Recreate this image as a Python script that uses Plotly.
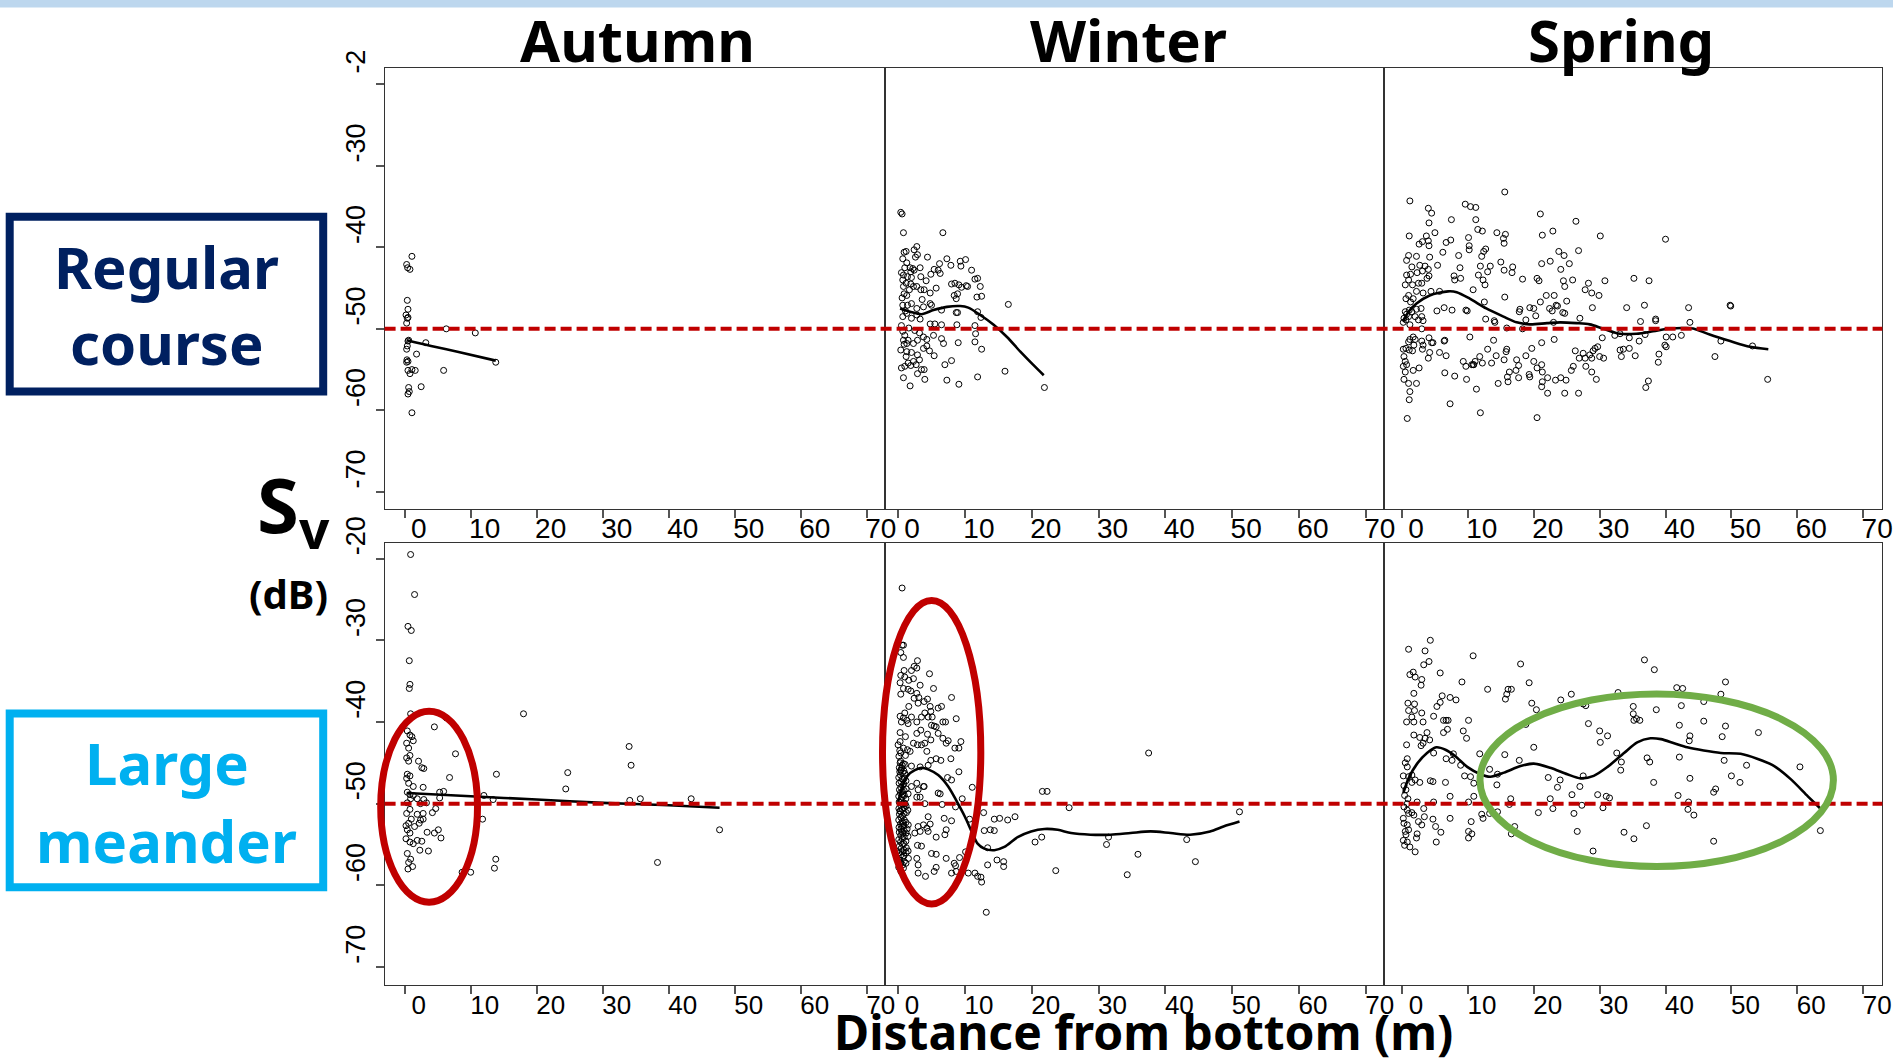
import plotly.graph_objects as go

# ---------------- data ----------------
x_ticks = [0, 10, 20, 30, 40, 50, 60, 70]
x_ticktext = ["0", "10", "20", "30", "40", "50", "60", "70"]
y_ticks = [-20, -30, -40, -50, -60, -70]
y_ticktext_top = ["-2", "-30", "-40", "-50", "-60", "-70"]
y_ticktext_bottom = ["-20", "-30", "-40", "-50", "-60", "-70"]
seasons = ["Autumn", "Winter", "Spring"]
threshold_db = -50

autumn_rc = [(1.1,-41.1),(0.3,-42.1),(0.45,-42.5),(0.8,-42.7),(0.4,-46.5),(0.5,-47.6),(0.2,-48.3),
             (0.4,-48.7),(0.5,-48.6),(0.3,-49.3),(6.3,-50.0),(10.7,-50.5),(0.5,-51.5),(0.6,-51.4),
             (3.2,-51.7),(0.4,-52.1),(0.3,-52.5),(1.8,-53.1),(0.35,-53.8),(0.5,-54.0),(0.3,-54.1),
             (13.8,-54.1),(0.5,-55.1),(1.1,-55.0),(1.6,-55.1),(0.8,-55.5),(5.9,-55.1),(2.5,-57.1),
             (0.6,-57.2),(0.7,-57.7),(0.5,-58.0),(1.1,-60.3)]
autumn_rc_fit = [(0.3,-51.4),(4.0,-52.1),(8.0,-52.8),(13.8,-53.9)]

winter_rc = [(0.4,-35.7),(0.6,-35.9),(0.8,-38.2),(6.7,-38.2),(2.8,-39.9),(2.4,-40.3),(0.9,-40.6),
             (1.2,-40.5),(0.7,-41.4),(2.9,-40.9),(4.4,-41.2),(7.3,-41.4),(9.3,-41.7),(10.1,-41.5),
             (9.4,-42.3),(7.9,-42.2),(6.2,-42.0),(6.0,-42.8),(6.3,-43.2),(1.3,-41.9),(1.0,-42.5),
             (1.8,-42.5),(2.2,-42.6),(2.4,-42.8),(3.3,-42.5),(1.9,-43.0),(0.8,-43.4),(1.4,-43.6),
             (2.0,-43.7),(3.4,-43.6),(4.9,-43.3),(5.4,-42.7),(11.0,-42.8),(11.9,-43.8),(11.5,-43.9),
             (0.7,-44.0),(1.2,-44.4),(1.9,-44.5),(2.3,-44.8),(1.7,-45.2),(0.8,-44.8),(0.9,-45.7),
             (1.3,-45.9),(2.8,-44.8),(3.4,-45.2),(3.9,-45.2),(4.8,-45.6),(5.7,-45.0),(8.0,-44.5),
             (8.5,-44.4),(9.1,-44.6),(9.5,-44.9),(10.2,-44.7),(10.4,-44.8),(8.4,-45.9),(8.7,-46.3),
             (8.9,-45.7),(12.3,-44.8),(12.5,-46.0),(11.8,-46.1),(16.5,-47.0),(0.7,-47.1),(1.4,-47.1),
             (2.0,-46.9),(2.8,-47.5),(3.8,-47.3),(4.8,-46.9),(5.0,-47.1),(6.5,-47.7),(8.7,-48.0),
             (8.9,-48.0),(11.9,-47.9),(12.4,-48.6),(0.7,-48.5),(1.3,-48.1),(2.0,-48.7),(2.8,-48.3),
             (4.8,-49.4),(5.5,-49.4),(6.5,-49.5),(8.8,-49.5),(11.5,-49.6),(3.3,-48.8),(0.7,-50.3),
             (1.0,-50.8),(0.8,-51.4),(1.5,-51.4),(0.9,-51.9),(1.3,-51.8),(2.3,-51.8),(2.9,-51.4),
             (3.8,-51.0),(3.2,-50.5),(4.3,-51.3),(5.3,-50.8),(6.5,-51.2),(6.8,-51.8),(9.0,-51.7),
             (11.6,-50.6),(11.5,-51.6),(12.5,-52.5),(1.3,-52.8),(1.2,-53.4),(2.0,-52.9),(2.9,-53.2),
             (3.8,-52.4),(4.3,-52.1),(4.7,-52.7),(5.4,-53.3),(3.2,-53.8),(2.3,-54.0),(1.5,-54.2),
             (8.0,-53.9),(7.0,-54.4),(0.5,-54.8),(1.0,-54.6),(1.9,-54.5),(2.7,-54.4),(3.5,-55.0),
             (3.9,-55.0),(2.9,-55.5),(4.0,-56.2),(0.8,-56.0),(1.8,-57.0),(7.3,-56.3),(9.1,-56.8),
             (11.9,-55.9),(16.0,-55.2),(21.9,-57.2),(0.5,-49.6),(0.6,-46.2),(1.6,-49.9),(0.4,-52.6),
             (2.5,-50.2),(1.1,-47.8),(0.5,-43.1),(3.6,-46.4),(4.2,-44.1),(2.6,-41.2)]
winter_rc_fit = [(0.3,-47.5),(1.8,-47.9),(3.5,-48.2),(5.3,-47.7),(7.3,-47.3),(9.3,-47.2),(10.5,-47.4),
                 (12.3,-48.3),(14.3,-49.5),(16.3,-51.0),(18.3,-52.8),(20.2,-54.4),(21.8,-55.7)]

spring_rc = [(1.2,-34.3),(15.6,-33.2),(4.0,-35.2),(4.5,-35.8),(9.6,-34.7),(10.4,-35.0),(11.2,-35.1),
             (7.5,-36.6),(11.2,-36.6),(21.0,-35.9),(26.4,-36.8),(4.1,-37.0),(11.5,-37.8),(12.2,-38.0),
             (14.4,-38.2),(15.7,-38.4),(22.9,-38.0),(21.3,-38.5),(30.1,-38.6),(40.0,-39.0),(1.1,-38.6),
             (3.7,-38.6),(3.1,-39.3),(2.6,-39.6),(5.0,-38.2),(4.0,-39.2),(4.1,-39.8),(7.4,-39.1),
             (6.7,-39.4),(10.1,-38.8),(10.2,-39.8),(10.2,-40.3),(12.7,-40.2),(12.4,-40.5),(12.1,-41.1),
             (15.5,-39.5),(15.4,-38.9),(6.2,-40.6),(8.6,-41.0),(4.2,-41.2),(2.2,-41.1),(1.0,-41.0),
             (0.7,-41.6),(23.8,-40.5),(24.6,-41.0),(25.4,-42.0),(24.1,-42.7),(26.8,-40.4),(22.5,-41.7),
             (21.2,-42.0),(15.0,-41.8),(16.8,-42.4),(15.5,-42.8),(16.7,-43.1),(11.9,-42.3),(13.4,-42.3),
             (13.0,-43.0),(8.8,-42.5),(5.4,-42.2),(1.5,-42.4),(2.7,-42.2),(3.5,-42.3),(1.3,-43.3),
             (2.3,-43.1),(3.1,-42.9),(4.0,-42.7),(0.7,-43.4),(1.0,-44.0),(0.5,-44.6),(1.6,-44.6),
             (2.5,-44.4),(3.0,-44.4),(4.1,-43.5),(3.8,-43.8),(7.9,-43.5),(8.0,-44.0),(8.9,-43.8),
             (11.6,-43.4),(12.3,-44.0),(12.6,-44.6),(18.3,-43.9),(20.5,-43.8),(20.8,-44.1),(24.5,-44.1),
             (25.9,-44.0),(24.7,-44.8),(28.3,-44.4),(27.8,-45.2),(28.8,-45.6),(29.9,-45.9),(30.8,-44.1),
             (35.2,-43.8),(37.5,-44.1),(10.8,-45.2),(3.2,-45.6),(2.2,-45.4),(1.0,-45.9),(1.7,-46.3),
             (0.6,-46.3),(1.3,-46.7),(4.4,-45.4),(5.7,-45.4),(15.6,-46.1),(21.9,-45.9),(23.1,-45.9),
             (25.0,-46.6),(23.6,-47.2),(12.5,-46.7),(28.9,-47.4),(34.1,-47.4),(36.8,-47.1),(49.8,-47.1),
             (49.9,-47.2),(43.5,-47.4),(5.3,-47.8),(6.4,-47.4),(7.6,-47.7),(9.7,-47.7),(9.9,-47.8),
             (17.9,-47.6),(17.8,-47.9),(19.4,-47.4),(20.0,-47.5),(21.0,-46.7),(22.4,-47.5),(22.8,-47.8),
             (23.4,-47.1),(24.4,-48.0),(24.7,-48.1),(20.3,-48.4),(27.0,-48.7),(18.8,-48.9),(12.7,-48.8),
             (14.0,-49.0),(14.1,-49.2),(36.2,-49.1),(38.5,-49.0),(38.5,-48.8),(43.7,-49.2),(0.5,-47.9),
             (0.7,-48.2),(1.0,-48.5),(0.3,-48.7),(0.6,-48.9),(0.2,-49.2),(1.2,-49.5),(2.0,-48.5),
             (2.5,-48.9),(3.2,-49.0),(3.0,-48.5),(2.2,-47.6),(1.1,-47.7),(1.5,-47.9),(2.9,-47.5),
             (23.0,-49.2),(15.9,-49.9),(18.3,-50.0),(3.0,-50.0),(10.3,-51.0),(6.5,-51.4),(6.4,-51.5),
             (4.1,-51.1),(4.7,-51.7),(1.7,-51.0),(1.2,-51.3),(1.0,-51.6),(2.0,-51.3),(1.8,-52.0),
             (3.0,-51.5),(3.2,-52.0),(3.1,-52.5),(0.2,-52.5),(0.6,-52.4),(1.1,-52.6),(1.6,-52.7),
             (0.3,-53.4),(0.5,-54.0),(0.7,-54.4),(0.2,-54.6),(13.9,-51.4),(21.2,-51.7),(23.1,-51.3),
             (30.4,-51.1),(29.7,-52.2),(29.3,-52.4),(29.0,-52.7),(28.5,-53.2),(32.3,-50.8),(33.1,-50.6),
             (34.5,-51.1),(36.0,-51.5),(36.9,-50.7),(40.1,-51.0),(41.1,-51.0),(42.4,-50.8),(39.9,-52.0),
             (40.1,-52.2),(48.4,-51.5),(53.2,-52.1),(4.2,-52.9),(4.5,-51.7),(5.7,-52.9),(6.7,-53.3),
             (4.0,-53.6),(13.0,-52.5),(11.8,-53.4),(11.1,-54.0),(10.8,-54.4),(9.7,-54.6),(12.2,-54.2),
             (15.9,-52.5),(15.8,-52.8),(15.5,-53.8),(14.3,-53.3),(13.6,-54.2),(19.7,-52.4),(18.8,-53.3),
             (17.4,-53.8),(20.0,-54.0),(20.5,-54.8),(21.2,-54.4),(17.7,-54.5),(17.3,-55.1),(16.3,-55.3),
             (16.0,-55.9),(16.1,-56.5),(17.7,-56.0),(19.3,-55.6),(19.4,-55.9),(21.3,-55.3),(22.1,-56.0),
             (21.3,-56.5),(21.2,-57.1),(23.3,-56.3),(24.1,-56.0),(24.9,-56.3),(22.1,-57.9),(24.7,-57.9),
             (26.8,-57.9),(26.3,-52.7),(27.5,-53.0),(27.8,-53.6),(26.9,-53.6),(28.8,-53.6),(30.0,-53.4),
             (30.6,-53.6),(26.0,-54.6),(25.7,-55.1),(27.9,-54.6),(28.8,-55.3),(29.5,-56.2),(33.1,-52.6),
             (33.6,-52.5),(34.5,-52.4),(33.3,-53.4),(35.4,-53.3),(39.0,-53.1),(38.9,-54.1),(37.4,-56.4),
             (37.0,-57.2),(47.5,-53.4),(55.5,-56.2),(9.3,-54.0),(10.6,-54.4),(10.9,-54.4),(6.5,-55.4),
             (8.0,-55.8),(9.8,-56.2),(11.3,-57.4),(2.6,-54.8),(1.7,-55.1),(0.5,-55.3),(0.3,-56.2),
             (1.0,-56.7),(2.2,-56.7),(1.2,-57.7),(1.1,-58.7),(7.3,-59.2),(14.6,-56.7),(11.9,-60.3),
             (0.8,-61.0),(20.5,-60.9)]
spring_rc_fit = [(0.2,-49.1),(1.0,-47.9),(2.2,-46.9),(4.2,-45.9),(7.0,-45.4),(8.3,-45.5),(10.3,-46.3),
                 (12.8,-47.5),(15.4,-48.5),(17.4,-49.2),(19.4,-49.45),(22.0,-49.3),(24.0,-49.2),
                 (26.5,-49.3),(28.5,-49.45),(30.6,-50.0),(33.1,-50.6),(35.6,-50.6),(38.1,-50.3),
                 (40.7,-49.95),(42.7,-49.9),(44.2,-49.95),(46.7,-50.7),(49.8,-51.5),(52.8,-52.2),(55.6,-52.5)]

autumn_lm = [(0.9,-19.5),(1.5,-24.4),(0.5,-28.3),(1.0,-28.8),(0.7,-32.5),(0.8,-35.4),(0.7,-35.9),
             (0.9,-39.0),(6.3,-39.5),(4.5,-40.6),(18.0,-39.0),(0.4,-41.1),(0.8,-41.6),(1.1,-41.8),
             (1.3,-42.3),(0.3,-42.6),(0.6,-43.2),(0.8,-44.1),(0.3,-44.4),(0.6,-44.8),(2.1,-44.8),
             (2.6,-45.6),(2.9,-45.7),(7.7,-43.9),(34.0,-43.0),(34.3,-45.3),(13.9,-46.4),(6.8,-46.8),
             (24.7,-46.2),(0.4,-46.4),(0.8,-46.6),(0.3,-46.9),(0.6,-47.5),(1.3,-47.9),(2.8,-48.0),
             (24.4,-48.2),(0.4,-48.6),(0.8,-48.9),(1.3,-49.0),(0.9,-49.4),(1.9,-49.4),(2.9,-49.5),
             (5.3,-48.6),(5.9,-48.5),(5.3,-49.3),(12.0,-49.0),(13.4,-49.5),(34.1,-49.6),(35.7,-49.4),
             (43.4,-49.4),(0.4,-49.9),(2.4,-50.0),(3.3,-49.9),(4.7,-50.6),(0.8,-50.7),(0.3,-51.2),
             (1.9,-51.3),(2.8,-51.2),(1.0,-51.9),(0.6,-52.4),(0.2,-52.7),(1.5,-52.8),(2.2,-52.4),
             (2.4,-52.0),(2.8,-51.9),(4.2,-51.1),(11.8,-51.9),(47.7,-53.2),(0.4,-53.2),(0.8,-53.6),
             (0.2,-54.3),(0.8,-54.7),(1.3,-54.9),(1.9,-54.5),(2.6,-54.6),(3.4,-53.5),(4.5,-53.6),
             (5.1,-53.2),(5.5,-54.2),(3.6,-55.8),(2.3,-55.7),(0.4,-56.1),(0.9,-56.8),(0.6,-57.2),
             (1.2,-57.7),(0.5,-58.0),(8.7,-58.4),(10.0,-58.4),(13.8,-56.8),(13.6,-57.9),(38.3,-57.2)]
autumn_lm_fit = [(0.3,-48.7),(10.0,-49.1),(20.0,-49.5),(30.0,-49.9),(40.0,-50.2),(47.7,-50.5)]

winter_lm = [(0.6,-23.6),(0.6,-30.6),(0.8,-30.6),(0.4,-31.5),(0.8,-32.1),(2.9,-32.5),(2.4,-33.2),
             (2.8,-33.4),(2.0,-33.7),(0.9,-33.7),(4.7,-34.1),(5.3,-35.9),(3.3,-35.5),(0.4,-34.3),
             (1.0,-34.5),(1.6,-34.9),(2.3,-34.7),(0.3,-35.2),(0.8,-35.9),(1.5,-36.0),(1.9,-36.2),
             (0.4,-36.6),(2.8,-36.5),(2.4,-37.1),(3.1,-37.0),(3.0,-37.7),(4.4,-37.2),(3.9,-37.5),
             (8.0,-37.0),(6.0,-38.3),(6.5,-38.1),(4.8,-38.1),(4.9,-38.7),(4.5,-39.4),(5.1,-39.4),
             (8.7,-39.6),(6.7,-40.0),(7.1,-40.0),(5.4,-40.5),(5.0,-40.4),(5.7,-40.6),(1.6,-38.1),
             (1.0,-38.9),(0.3,-39.3),(0.8,-39.5),(1.3,-39.8),(0.5,-40.0),(1.5,-40.2),(2.0,-39.4),
             (2.8,-40.0),(4.0,-38.9),(3.5,-39.4),(0.3,-41.3),(1.1,-41.8),(0.3,-42.4),(0.0,-42.8),
             (0.8,-43.2),(1.4,-43.4),(1.8,-43.6),(0.4,-43.8),(1.1,-44.1),(2.3,-42.6),(2.9,-42.8),
             (3.5,-42.8),(4.0,-42.6),(4.3,-43.6),(2.8,-41.4),(3.4,-41.0),(4.4,-41.5),(4.9,-42.2),
             (6.0,-41.4),(6.7,-42.0),(7.2,-42.6),(7.5,-42.3),(8.5,-43.2),(9.4,-42.4),(9.1,-43.2),
             (7.9,-44.5),(6.4,-44.7),(5.7,-44.5),(4.9,-44.7),(4.5,-45.3),(3.3,-45.5),(2.0,-45.4),
             (0.3,-45.0),(0.8,-45.1),(0.4,-45.9),(1.0,-46.3),(9.1,-46.1),(7.4,-46.8),(8.0,-47.1),
             (11.1,-48.0),(3.8,-47.9),(3.9,-47.9),(6.0,-48.7),(6.3,-48.8),(9.6,-49.4),(2.8,-47.5),
             (2.0,-47.9),(3.0,-48.3),(2.8,-49.2),(3.3,-49.2),(4.0,-50.0),(6.6,-50.1),(8.6,-50.4),
             (6.9,-51.8),(4.5,-51.6),(4.8,-52.5),(3.8,-52.6),(4.3,-53.0),(3.0,-52.8),(2.5,-53.6),
             (3.3,-53.4),(4.5,-53.4),(5.7,-54.1),(7.2,-53.2),(7.0,-53.8),(8.0,-52.1),(10.7,-51.9),
             (12.8,-51.1),(14.4,-51.9),(15.2,-51.8),(16.4,-52.0),(17.5,-51.6),(12.9,-53.3),(13.8,-53.2),
             (14.4,-53.3),(2.9,-55.1),(3.5,-55.2),(5.0,-56.1),(5.7,-56.2),(7.2,-56.7),(9.2,-56.6),
             (10.1,-55.9),(2.8,-56.7),(3.0,-57.5),(3.0,-58.5),(4.1,-58.9),(5.4,-58.3),(5.7,-57.8),
             (8.4,-57.3),(8.6,-57.6),(8.0,-58.5),(8.7,-58.3),(10.5,-58.5),(11.5,-58.5),(11.9,-58.9),
             (12.4,-59.0),(12.5,-59.6),(13.4,-57.5),(13.4,-55.4),(14.8,-56.9),(15.8,-57.1),(15.8,-57.7),
             (20.5,-54.7),(21.5,-54.1),(23.6,-58.2),(31.2,-55.0),(31.5,-54.1),(34.3,-58.7),(35.9,-56.2),
             (37.5,-43.8),(43.2,-54.4),(44.5,-57.1),(51.1,-51.0),(25.6,-50.5),(21.6,-48.5),(22.3,-48.5),
             (13.2,-63.3),
             # dense column next to the bottom
             (0.12,-44.2),(0.18,-45.6),(0.1,-46.8),(0.15,-47.5),(0.2,-48.3),(0.1,-49.1),(0.16,-49.8),
             (0.12,-50.6),(0.2,-51.3),(0.1,-52.0),(0.14,-52.9),(0.18,-53.5),(0.1,-54.4),(0.2,-55.2),
             (0.12,-56.0),(0.16,-56.9),(0.1,-57.8),
             (0.38,-44.8),(0.42,-45.9),(0.36,-46.5),(0.44,-47.3),(0.4,-48.0),(0.35,-48.7),(0.45,-49.5),
             (0.4,-50.2),(0.38,-51.0),(0.43,-51.7),(0.36,-52.5),(0.42,-53.1),(0.4,-53.9),(0.37,-54.7),
             (0.44,-55.5),(0.4,-56.3),(0.38,-57.2),(0.42,-58.3),
             (0.62,-45.3),(0.66,-46.2),(0.6,-47.0),(0.68,-47.8),(0.64,-48.5),(0.6,-49.2),(0.67,-50.0),
             (0.63,-50.7),(0.66,-51.5),(0.6,-52.2),(0.65,-52.8),(0.68,-53.6),(0.62,-54.3),(0.66,-55.0),
             (0.6,-55.9),(0.64,-56.6),(0.67,-57.5),
             (0.88,-46.0),(0.92,-46.9),(0.86,-47.6),(0.9,-48.4),(0.94,-49.0),(0.87,-49.9),(0.91,-50.5),
             (0.89,-51.2),(0.93,-52.0),(0.86,-52.7),(0.9,-53.3),(0.92,-54.1),(0.88,-54.9),(0.91,-55.7),
             (0.87,-56.4),(0.93,-57.1),
             (1.18,-47.2),(1.22,-48.2),(1.16,-49.4),(1.2,-50.3),(1.24,-51.1),(1.18,-52.3),(1.21,-53.6),
             (1.17,-54.6),(1.23,-55.4),(1.2,-56.0),(1.18,-57.3),
             (1.5,-48.8),(1.46,-50.8),(1.52,-52.6),(1.48,-54.0),(1.5,-55.8),(1.55,-56.7),
             (0.25,-46.1),(0.55,-45.6),(0.75,-48.9),(0.28,-50.9),(0.52,-53.4),(0.78,-52.4),(1.05,-50.0),
             (0.3,-57.3),(0.8,-57.9),(1.35,-53.1),(1.05,-45.2),(0.25,-43.5)]
winter_lm_fit = [(0.0,-49.8),(0.7,-47.8),(1.5,-46.5),(2.5,-45.9),(3.5,-45.6),(4.5,-45.8),(6.0,-46.5),
                 (7.5,-47.9),(8.7,-49.6),(10.0,-51.6),(11.0,-53.4),(11.9,-54.9),(12.9,-55.5),(14.4,-55.7),
                 (15.9,-55.3),(17.9,-54.1),(19.9,-53.4),(21.9,-53.1),(23.9,-53.2),(25.9,-53.6),(28.8,-53.8),
                 (31.8,-53.8),(34.8,-53.6),(37.8,-53.4),(40.8,-53.6),(43.7,-53.8),(46.7,-53.4),(48.7,-52.8),
                 (51.1,-52.2)]

spring_lm = [(1.0,-31.1),(4.3,-30.0),(3.5,-31.3),(4.1,-32.6),(3.3,-33.0),(1.2,-34.2),(1.7,-33.9),
             (2.0,-34.5),(3.0,-34.8),(2.9,-35.5),(1.8,-36.5),(5.8,-34.0),(10.8,-31.9),(18.0,-32.9),
             (19.3,-35.2),(9.1,-35.1),(13.0,-36.0),(36.8,-32.4),(38.3,-33.6),(49.1,-35.1),(41.7,-35.8),
             (42.6,-35.9),(48.4,-36.6),(25.7,-36.6),(16.1,-36.0),(16.6,-36.0),(15.9,-36.6),(15.7,-37.2),
             (24.1,-37.3),(27.5,-37.8),(32.8,-36.4),(7.3,-37.0),(8.2,-37.3),(6.1,-36.8),(5.8,-37.6),
             (5.3,-38.1),(0.9,-37.7),(1.9,-37.8),(1.0,-38.6),(1.9,-38.6),(1.5,-39.4),(0.7,-40.0),
             (1.8,-40.0),(3.0,-38.9),(3.2,-40.0),(4.8,-39.3),(6.3,-39.8),(6.7,-39.8),(7.0,-39.8),
             (10.1,-39.8),(9.3,-41.1),(9.8,-42.0),(6.3,-41.3),(6.9,-40.9),(3.8,-41.3),(1.8,-41.6),
             (2.7,-41.9),(3.5,-42.0),(4.2,-42.2),(3.2,-42.6),(2.9,-42.9),(0.7,-42.8),(19.7,-37.7),
             (20.4,-38.5),(27.9,-38.0),(35.1,-38.1),(35.1,-39.0),(35.6,-39.6),(36.1,-39.8),(35.2,-39.8),
             (38.6,-38.5),(45.8,-37.5),(42.4,-38.0),(42.1,-40.4),(45.8,-39.9),(49.1,-40.5),(48.6,-41.8),
             (43.7,-41.7),(43.6,-42.3),(54.1,-41.3),(28.3,-40.2),(30.0,-41.1),(30.1,-42.5),(31.2,-41.7),
             (18.8,-40.3),(20.0,-43.1),(4.8,-43.8),(6.7,-44.5),(7.6,-44.7),(7.8,-43.9),(8.9,-45.3),
             (9.5,-46.6),(11.8,-43.9),(10.9,-47.5),(13.3,-45.8),(14.5,-46.4),(15.6,-44.0),(17.8,-44.7),
             (14.4,-47.7),(22.2,-46.8),(24.0,-47.1),(23.6,-48.0),(27.5,-46.6),(27.0,-47.9),(32.6,-43.8),
             (33.3,-44.9),(33.2,-45.9),(37.2,-44.4),(37.6,-44.9),(38.2,-47.4),(42.1,-44.3),(43.7,-46.9),
             (48.9,-44.7),(50.0,-46.6),(51.3,-47.4),(52.3,-45.3),(60.4,-45.5),(47.6,-48.2),(47.3,-48.6),
             (0.8,-44.5),(0.5,-45.0),(0.8,-45.5),(0.2,-46.6),(1.0,-46.7),(1.5,-46.5),(2.0,-47.1),
             (1.5,-47.4),(2.7,-47.4),(4.3,-47.2),(4.7,-47.3),(6.6,-47.4),(7.3,-49.1),(10.4,-46.7),
             (10.9,-49.1),(10.1,-49.8),(4.8,-49.8),(2.3,-49.8),(0.8,-50.0),(0.3,-50.4),(0.8,-50.8),
             (1.0,-51.2),(1.5,-51.1),(1.8,-51.4),(16.5,-49.4),(16.3,-50.1),(22.5,-49.4),(22.9,-50.6),
             (25.8,-48.9),(26.1,-51.2),(27.3,-50.2),(29.7,-48.9),(31.0,-49.1),(31.5,-49.3),(30.5,-50.5),
             (41.9,-49.0),(43.5,-49.8),(43.4,-50.7),(44.3,-51.4),(13.3,-51.2),(12.1,-51.3),(12.3,-51.8),
             (14.5,-51.0),(17.1,-52.8),(16.6,-53.7),(3.3,-50.6),(3.4,-51.6),(2.5,-52.2),(3.0,-52.6),
             (4.7,-51.9),(5.1,-52.8),(5.9,-53.5),(7.3,-51.8),(0.3,-52.4),(0.8,-52.6),(1.0,-53.2),
             (0.5,-53.4),(0.2,-54.5),(0.8,-54.7),(2.3,-53.7),(2.2,-54.2),(5.2,-54.7),(2.0,-55.9),
             (10.1,-53.4),(10.6,-53.7),(10.1,-54.2),(10.5,-52.2),(20.7,-51.1),(26.6,-53.4),(29.0,-55.8),
             (33.7,-53.5),(35.2,-54.3),(37.1,-52.7),(47.3,-54.6),(63.5,-53.3),(0.3,-47.8),(0.6,-48.3),
             (0.4,-49.0),(0.9,-49.4),(0.2,-51.8),(0.6,-53.8),(0.4,-55.1),(1.2,-55.3)]
spring_lm_fit = [(0.2,-48.7),(1.0,-46.9),(2.3,-45.1),(3.8,-43.8),(5.2,-43.1),(6.6,-43.4),(8.1,-44.2),
                 (9.9,-45.5),(11.9,-46.4),(13.4,-46.7),(15.5,-46.2),(18.0,-45.4),(20.0,-45.1),(22.5,-45.6),
                 (25.1,-46.4),(27.1,-46.9),(29.1,-46.6),(31.2,-45.5),(33.7,-43.8),(35.7,-42.5),(37.7,-42.0),
                 (39.3,-42.1),(41.3,-42.6),(43.3,-43.1),(45.8,-43.5),(48.4,-43.8),(51.4,-43.9),(53.9,-44.5),
                 (56.5,-45.4),(59.0,-47.0),(61.6,-49.1),(63.5,-50.6)]

# ---------------- layout geometry ----------------
W, H = 1893, 1060
def fx(p):
    return p / W
def fy(p):
    return 1 - p / H

NBSP = "\u00a0"
col_dom = [(384.6, 885.2), (885.2, 1384.0), (1384.0, 1882.3)]
col_xrange = [(-3.04, 72.79), (-1.93, 72.73), (-2.73, 72.9)]
row_dom = [(68.2, 508.5), (542.5, 984.5)]
row_yrange = [(-72.05, -18.01), (-72.14, -18.03)]

panels = [
    (0, 0, autumn_rc, autumn_rc_fit), (0, 1, winter_rc, winter_rc_fit), (0, 2, spring_rc, spring_rc_fit),
    (1, 0, autumn_lm, autumn_lm_fit), (1, 1, winter_lm, winter_lm_fit), (1, 2, spring_lm, spring_lm_fit),
]

fig = go.Figure()
layout = dict(
    width=W, height=H, margin=dict(l=0, r=0, t=0, b=0, pad=0, autoexpand=False),
    paper_bgcolor="white", plot_bgcolor="white", showlegend=False,
)

for i, (r, c, pts, fit) in enumerate(panels):
    k = i + 1
    xa = "x" if k == 1 else f"x{k}"
    ya = "y" if k == 1 else f"y{k}"
    fig.add_trace(go.Scatter(
        x=[p[0] for p in pts], y=[p[1] for p in pts], mode="markers",
        marker=dict(symbol="circle-open", size=6, color="black", line=dict(width=1, color="black")),
        xaxis=xa, yaxis=ya, hoverinfo="skip"))
    fig.add_trace(go.Scatter(
        x=[p[0] for p in fit], y=[p[1] for p in fit], mode="lines",
        line=dict(color="black", width=2.6, shape="spline", smoothing=0.8),
        xaxis=xa, yaxis=ya, hoverinfo="skip"))

    xkey = "xaxis" if k == 1 else f"xaxis{k}"
    ykey = "yaxis" if k == 1 else f"yaxis{k}"
    layout[xkey] = dict(
        domain=[fx(col_dom[c][0]), fx(col_dom[c][1])], range=list(col_xrange[c]),
        anchor=ya, tickvals=x_ticks, ticktext=x_ticktext, ticks="outside", ticklen=8,
        tickwidth=1.5, tickcolor="#555", showgrid=False, zeroline=False, automargin=False,
        showline=True, mirror=True, linecolor="#333", linewidth=1,
        tickfont=dict(family="Liberation Sans, Arial", size=(28 if r == 0 else 26), color="black"),
        ticklabelshift=14, ticklabelstandoff=(-13 if r == 0 else -11),
    )
    ydict = dict(
        domain=[fy(row_dom[r][1]), fy(row_dom[r][0])], range=list(row_yrange[r]),
        anchor=xa, showgrid=False, zeroline=False, automargin=False,
        showline=True, mirror=True, linecolor="#333", linewidth=1,
    )
    if c == 0:
        labels = y_ticktext_top if r == 0 else y_ticktext_bottom
        ydict.update(
            tickvals=y_ticks, ticktext=[NBSP * 5 + t for t in labels],
            ticks="outside", ticklen=8, tickwidth=1.5, tickcolor="#555", tickangle=-90,
            tickfont=dict(family="Liberation Sans, Arial", size=27, color="black"),
        )
    else:
        ydict.update(showticklabels=False, ticks="")
    layout[ykey] = ydict

shapes = []
# light blue band at top
shapes.append(dict(type="rect", xref="paper", yref="paper", x0=0, x1=1, y0=fy(7.5), y1=1,
                   fillcolor="#BDD7EE", line=dict(width=0), layer="below"))
# threshold lines across each row
for r, yref in [(0, "y"), (1, "y4")]:
    shapes.append(dict(type="line", xref="paper", yref=yref, x0=fx(384.6), x1=fx(1882.3),
                       y0=threshold_db, y1=threshold_db,
                       line=dict(color="#C00000", width=4, dash="11px,5px")))
# row label boxes
shapes.append(dict(type="rect", xref="paper", yref="paper", x0=fx(9.7), x1=fx(323.2),
                   y0=fy(391.4), y1=fy(216.8), line=dict(color="#002060", width=8)))
shapes.append(dict(type="rect", xref="paper", yref="paper", x0=fx(9.7), x1=fx(323.2),
                   y0=fy(887.2), y1=fy(713.4), line=dict(color="#00B0F0", width=8)))
# highlight ellipses
shapes.append(dict(type="circle", xref="paper", yref="paper", x0=fx(380.7), x1=fx(477.5),
                   y0=fy(902.2), y1=fy(711.2), line=dict(color="#C00000", width=7)))
shapes.append(dict(type="circle", xref="paper", yref="paper", x0=fx(882.5), x1=fx(980.8),
                   y0=fy(904.0), y1=fy(600.5), line=dict(color="#C00000", width=7)))
shapes.append(dict(type="circle", xref="paper", yref="paper", x0=fx(1480.0), x1=fx(1833.4),
                   y0=fy(866.6), y1=fy(694.0), line=dict(color="#70AD47", width=7)))
layout["shapes"] = shapes

title_font = dict(family="Noto Sans, Open Sans, sans-serif", size=58, color="black", weight="bold")
ann = []
for name, xc in zip(seasons, [637.7, 1128.7, 1621.0]):
    ann.append(dict(text=name, x=fx(xc), y=fy(40), xref="paper", yref="paper",
                    xanchor="center", yanchor="middle", showarrow=False, font=title_font))
ann.append(dict(text="Regular", x=fx(166.5), y=fy(266), xref="paper", yref="paper",
                xanchor="center", yanchor="middle", showarrow=False,
                font=dict(family="Noto Sans", size=58, color="#002060", weight="bold")))
ann.append(dict(text="course", x=fx(166.5), y=fy(342), xref="paper", yref="paper",
                xanchor="center", yanchor="middle", showarrow=False,
                font=dict(family="Noto Sans", size=58, color="#002060", weight="bold")))
ann.append(dict(text="Large", x=fx(166.5), y=fy(762), xref="paper", yref="paper",
                xanchor="center", yanchor="middle", showarrow=False,
                font=dict(family="Noto Sans", size=58, color="#00B0F0", weight="bold")))
ann.append(dict(text="meander", x=fx(166.5), y=fy(840.5), xref="paper", yref="paper",
                xanchor="center", yanchor="middle", showarrow=False,
                font=dict(family="Noto Sans", size=58, color="#00B0F0", weight="bold")))
ann.append(dict(text="S<sub>v</sub>", x=fx(255), y=fy(508), xref="paper", yref="paper",
                xanchor="left", yanchor="middle", showarrow=False,
                font=dict(family="Noto Sans", size=76, color="black", weight="bold")))
ann.append(dict(text="(dB)", x=fx(288.5), y=fy(593), xref="paper", yref="paper",
                xanchor="center", yanchor="middle", showarrow=False,
                font=dict(family="Noto Sans", size=40, color="black", weight="bold")))
ann.append(dict(text="Distance from bottom (m)", x=fx(1143.4), y=fy(1031), xref="paper", yref="paper",
                xanchor="center", yanchor="middle", showarrow=False,
                font=dict(family="Noto Sans", size=48, color="black", weight="bold")))
layout["annotations"] = ann

fig.update_layout(**layout)
fig.write_html("out.html", config={"displayModeBar": False},
               post_script="document.body.style.margin='0px';")
